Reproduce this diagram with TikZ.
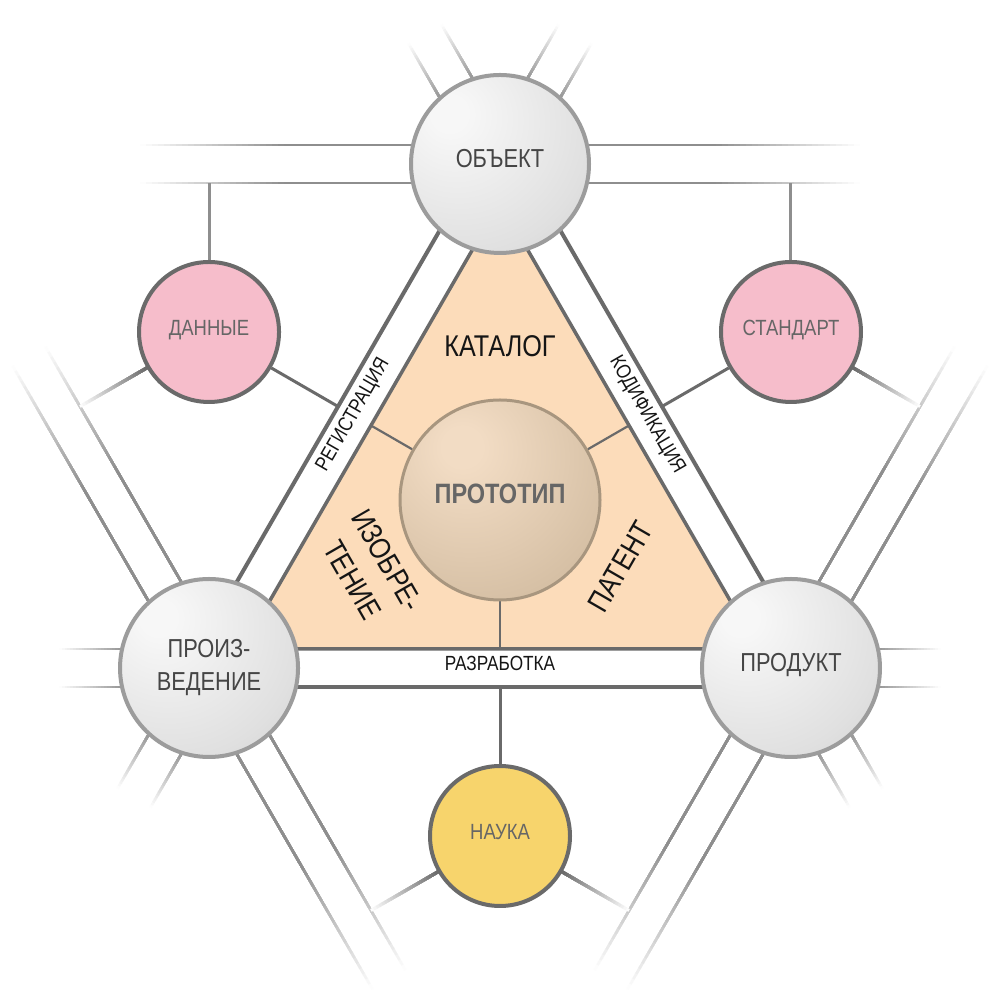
\documentclass[tikz,border=0pt]{standalone}
\usepackage{fontspec}
\setmainfont[FakeStretch=0.84]{Liberation Sans}
\usetikzlibrary{calc}
\pgfdeclarelayer{bg}
\pgfsetlayers{bg,main}
\definecolor{gA}{HTML}{F7F7F7}
\definecolor{gB}{HTML}{E0E0E0}
\definecolor{gC}{HTML}{BCBCBC}
\definecolor{pA}{HTML}{F2DCC4}
\definecolor{pB}{HTML}{D6C0A5}
\definecolor{pC}{HTML}{B8A083}
\definecolor{peach}{HTML}{FCDCBA}
\definecolor{pinkf}{HTML}{F6BDCB}
\definecolor{yellowf}{HTML}{F7D46C}
\definecolor{darkln}{HTML}{6A6A6A}
\definecolor{lightln}{HTML}{8E8E8E}
\definecolor{sphedge}{HTML}{9C9C9C}
\definecolor{protedge}{HTML}{A8967F}
\definecolor{txtdark}{HTML}{454545}
\definecolor{txtgray}{HTML}{666666}
\definecolor{txtblack}{HTML}{151515}
\pgfdeclareradialshading{gsphere}{\pgfpoint{-15bp}{15bp}}{color(0bp)=(gA);color(5bp)=(gA);color(35bp)=(gB);color(66bp)=(gC);color(100bp)=(gC)}
\pgfdeclareradialshading{psphere}{\pgfpoint{-10bp}{14bp}}{color(0bp)=(pA);color(5bp)=(pA);color(35bp)=(pB);color(64bp)=(pC);color(100bp)=(pC)}
\newcommand\fadeline[5]{%
  \foreach \kk in {24,23,...,1}{%
    \pgfmathsetmacro\fr{#2+(1-#2)*\kk/24}%
    \pgfmathsetmacro\pc{100*(1-(\kk-0.5)/24)}%
    \draw[line width=#5, draw=#4!\pc!white] (#1) -- ($(#1)!\fr!(#3)$);
  }%
  \draw[line width=#5, draw=#4] (#1) -- ($(#1)!#2!(#3)$);
}
\begin{document}
\begin{tikzpicture}[x=1pt,y=1pt,
  sphere/.style={circle, inner sep=0pt, minimum size=178, draw=sphedge, line width=4, shade, shading=gsphere, text=txtdark, font=\fontsize{26}{33}\selectfont},
  small/.style={circle, inner sep=0pt, minimum size=140, draw=darkln, line width=4, text=txtgray, font=\fontsize{22}{26}\selectfont},
  protost/.style={circle, inner sep=0pt, minimum size=200, draw=protedge, line width=3, shade, shading=psphere, text=txtgray, font=\fontsize{28}{33}\selectfont\bfseries},
  capc/.style={text height=0.72em, text depth=0pt},
  bandlbl/.style={inner sep=0pt, text=txtblack, font=\fontsize{20.5}{24}\selectfont, text height=0.72em, text depth=0pt},
  trilbl/.style={inner sep=0pt, text=txtblack, font=\fontsize{30}{40}\selectfont, align=center},
  bandline/.style={draw=darkln, line width=4},
  spokeln/.style={draw=darkln, line width=3},
  upspoke/.style={draw=lightln, line width=3},
  innerspoke/.style={draw=darkln, line width=2.2}
]
\useasboundingbox (0,0) rectangle (1000,1000);
\coordinate (C) at (500,500);
\foreach \nm/\ang in {Ob/90,Pr/210,Pd/330,Da/150,St/30,Na/270}{\coordinate (c\nm) at ($(C)+(\ang:336)$);}

% nodes
\node[sphere, capc] (ob) at (cOb) {ОБЪЕКТ};
\node[sphere, align=center] (pr) at (cPr) {ПРОИЗ-\\ВЕДЕНИЕ};
\node[sphere, capc] (pd) at (cPd) {ПРОДУКТ};
\node[small, capc, fill=pinkf] (dan) at (cDa) {ДАННЫЕ};
\node[small, capc, fill=pinkf] (st) at (cSt) {СТАНДАРТ};
\node[small, capc, fill=yellowf] (nau) at (cNa) {НАУКА};
\node[protost, capc] (proto) at (C) {ПРОТОТИП};

% labels
\node[bandlbl, rotate=60] (lreg) at ($(C)+(150:168)$) {РЕГИСТРАЦИЯ};
\node[bandlbl, rotate=-60] (lkod) at ($(C)+(30:168)$) {КОДИФИКАЦИЯ};
\node[bandlbl] (lraz) at ($(C)+(270:167)$) {РАЗРАБОТКА};
\node[trilbl, capc] (lkat) at (500,647) {КАТАЛОГ};
\node[trilbl, rotate=-60] (lizo) at (370,430) {ИЗОБРЕ-\\ТЕНИЕ};
\node[trilbl, capc, rotate=60] (lpat) at (626,430) {ПАТЕНТ};

\begin{pgfonlayer}{bg}
\fill[white] (0,0) rectangle (1000,1000);
% tangent line pairs at the outer circles
\foreach \nm/\ang in {Ob/90,Pr/210,Pd/330}{
  \foreach \off/\sn in {19/a,-19/b}{
    \foreach \dr/\dn in {90/p,-90/m}{
      \coordinate (t\nm\sn\dn0) at ($(c\nm)+(\ang:\off)$);
      \coordinate (t\nm\sn\dn1) at ($(c\nm)+(\ang:\off)+(\ang+\dr:360)$);
      \fadeline{t\nm\sn\dn0}{0.6}{t\nm\sn\dn1}{lightln}{2.4}
    }}}
% continuations of the triangle sides beyond the circles
\foreach \nm/\nrm/\dr in {Ob/150/60, Pr/150/240, Pr/270/180, Pd/270/0, Pd/30/300, Ob/30/120}{
  \foreach \off/\sn in {19/a,-19/b}{
    \coordinate (e\nm\nrm\sn0) at ($(c\nm)+(\nrm:\off)$);
    \coordinate (e\nm\nrm\sn1) at ($(c\nm)+(\nrm:\off)+(\dr:150)$);
    \fadeline{e\nm\nrm\sn0}{0.55}{e\nm\nrm\sn1}{lightln}{2.4}
  }}
% outer band lines
\draw[bandline] (eOb150a0) -- (ePr150a0);
\draw[bandline] (ePr270a0) -- (ePd270a0);
\draw[bandline] (ePd30a0) -- (eOb30a0);
% peach triangle
\coordinate (v1) at ($(C)+(90:298)$);
\coordinate (v2) at ($(C)+(210:298)$);
\coordinate (v3) at ($(C)+(330:298)$);
\draw[fill=peach, draw=darkln, line width=3.5] (v1) -- (v2) -- (v3) -- cycle;
% inner spokes of the prototype
\coordinate (q150) at ($(C)+(150:149)$);
\coordinate (q30) at ($(C)+(30:149)$);
\coordinate (q270) at ($(C)+(270:149)$);
\draw[innerspoke] (proto) -- (q150);
\draw[innerspoke] (proto) -- (q30);
\draw[innerspoke] (proto) -- (q270);
% spokes of the small circles
\coordinate (dUp) at (cDa |- tObbp0);
\coordinate (sUp) at (cSt |- tObbp0);
\coordinate (dIn) at ($(C)+(150:187)$);
\coordinate (sIn) at ($(C)+(30:187)$);
\coordinate (nUp) at ($(C)+(270:187)$);
\coordinate (dOut) at ($(cDa)+(210:149)$);
\coordinate (sOut) at ($(cSt)+(330:149)$);
\coordinate (nOutL) at ($(cNa)+(210:149)$);
\coordinate (nOutR) at ($(cNa)+(330:149)$);
\draw[upspoke] (dan) -- (dUp);
\draw[upspoke] (st) -- (sUp);
\draw[spokeln] (dan) -- (dIn);
\draw[spokeln] (st) -- (sIn);
\draw[spokeln] (nau) -- (nUp);
\fadeline{dan.210}{0}{dOut}{darkln}{3}
\fadeline{st.330}{0}{sOut}{darkln}{3}
\fadeline{nau.210}{0}{nOutL}{darkln}{3}
\fadeline{nau.330}{0}{nOutR}{darkln}{3}
\end{pgfonlayer}
\end{tikzpicture}
\end{document}
